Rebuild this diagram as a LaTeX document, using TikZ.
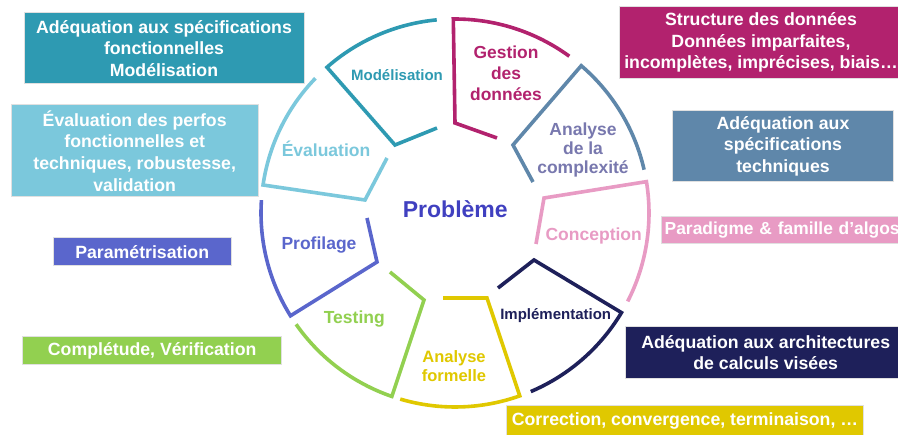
\documentclass[tikz,border=0pt]{standalone}
\usepackage{fontspec}
\setmainfont{Liberation Sans}
\usetikzlibrary{calc}
\definecolor{cteal}{HTML}{2E9AB2}
\definecolor{clight}{HTML}{7BC8DC}
\definecolor{cviolet}{HTML}{5A66CC}
\definecolor{cgreen}{HTML}{92D050}
\definecolor{cmag}{HTML}{B2226E}
\definecolor{csteel}{HTML}{5F87AA}
\definecolor{cpink}{HTML}{E89BC4}
\definecolor{cnavy}{HTML}{1E205A}
\definecolor{cyel}{HTML}{E0C800}
\definecolor{clav}{HTML}{7878AE}
\definecolor{cprob}{HTML}{4040C0}
\newcommand\boxfont{\fontsize{17.7}{21.7}\selectfont\bfseries}
\newcommand\segfont{\fontsize{17.5}{20.5}\selectfont\bfseries}
\newcommand\smallsegfont{\fontsize{15}{18}\selectfont\bfseries}
\begin{document}
\begin{tikzpicture}[x=1pt,y=-1pt,
  box/.style={draw=black!12, line width=1pt, inner sep=0pt, align=center, text=white, font=\boxfont},
  seg/.style={line width=3.6pt},
  lbl/.style={inner sep=0pt, align=center, font=\segfont},
  slbl/.style={inner sep=0pt, align=center, font=\smallsegfont}]
\useasboundingbox (0,0) rectangle (898,435);
\clip (0,0) rectangle (898,435);
\fill[white] (0,0) rectangle (898,435);

% boxes
\node[box, fill=cteal, minimum width=280, minimum height=71.3] (bmod) at (164,48.3)
  {Adéquation aux spécifications\\fonctionnelles\\Modélisation};
\node[box, fill=clight, minimum width=247.3, minimum height=91.7] (beval) at (134.7,150.8)
  {Évaluation des perfos\\fonctionnelles et\\techniques, robustesse,\\validation};
\node[box, fill=cviolet, minimum width=177.7, minimum height=28.3] (bparam) at (142.2,251.8)
  {Paramétrisation};
\node[box, fill=cgreen, minimum width=259, minimum height=28.3] (bcompl) at (152.2,350.8)
  {Complétude, Vérification};
\node[box, fill=cmag, minimum width=284, minimum height=71.6] (bstruct) at (761,42.5)
  {Structure des données\\Données imparfaites,\\incomplètes, imprécises, biais…};
\node[box, fill=csteel, minimum width=220.6, minimum height=70.7] (btech) at (783,146.3)
  {Adéquation aux\\spécifications\\techniques};
\node[box, fill=cpink, anchor=west, inner xsep=3.5pt, text width=237.6pt, align=left,
  minimum height=27.3, font=\fontsize{17.4}{21}\selectfont\bfseries] (bpara) at (660.7,229.7)
  {Paradigme \& famille d’algos};
\node[box, fill=cnavy, minimum width=281.4, minimum height=51.6] (barch) at (765.7,352.5)
  {Adéquation aux architectures\\de calculs visées};
\node[box, fill=cyel, minimum width=356.6, minimum height=29.4] (bcorr) at (685,420.7)
  {Correction, convergence, terminaison, …};

% cycle segments
\coordinate (c) at (455,213);
\def\R{194}
\draw[seg, cteal]   (437,128) -- (395,145) -- ($(c)+(228.7:\R)$) arc[start angle=228.7, end angle=264.6, radius=\R];
\draw[seg, cmag]    (497,138) -- (455,123) -- ($(c)+(-90.5:\R)$) arc[start angle=-90.5, end angle=-53.9, radius=\R];
\draw[seg, csteel]  (533,182) -- (513,145) -- ($(c)+(-49.4:\R)$) arc[start angle=-49.4, end angle=-12.9, radius=\R];
\draw[seg, cpink]   (536,244) -- (544,198) -- ($(c)+(-9.3:\R)$) arc[start angle=-9.3, end angle=27.1, radius=\R];
\draw[seg, cnavy]   (498,288) -- (534,260) -- ($(c)+(30.9:\R)$) arc[start angle=30.9, end angle=67.0, radius=\R];
\draw[seg, cyel]    (443,298) -- (487,298) -- ($(c)+(70.5:\R)$) arc[start angle=70.5, end angle=106.4, radius=\R];
\draw[seg, cgreen]  (390,272) -- (424,300) -- ($(c)+(109:\R)$) arc[start angle=109, end angle=145, radius=\R];
\draw[seg, cviolet] (367,218) -- (377,262) -- ($(c)+(148:\R)$) arc[start angle=148, end angle=183.8, radius=\R];
\draw[seg, clight]  (387,158) -- (365,200) -- ($(c)+(188.3:\R)$) arc[start angle=188.3, end angle=224, radius=\R];

% labels
\node[slbl, text=cteal] (lmod) at (397,75) {Modélisation};
\node[lbl, text=cmag, font=\fontsize{17.4}{21}\selectfont\bfseries] (lgest) at (506,73) {Gestion\\des\\données};
\node[lbl, text=clav, font=\fontsize{17.5}{19}\selectfont\bfseries] (lcomp) at (583,150) {Analyse\\de la\\complexité};
\node[lbl, text=clight] (leval) at (326,149) {Évaluation};
\node[inner sep=0pt, text=cprob, font=\fontsize{23}{27}\selectfont\bfseries] (lprob) at (455.3,209.3) {Problème};
\node[lbl, text=cviolet] (lprof) at (319,245) {Profilage};
\node[lbl, text=cgreen] (ltest) at (354.3,319) {Testing};
\node[lbl, text=cyel, font=\fontsize{16.5}{18.5}\selectfont\bfseries] (lform) at (454,366) {Analyse\\formelle};
\node[slbl, text=cnavy] (limpl) at (555.7,315.7) {Implémentation};
\node[lbl, text=cpink] (lconc) at (593.7,236) {Conception};
\end{tikzpicture}
\end{document}
